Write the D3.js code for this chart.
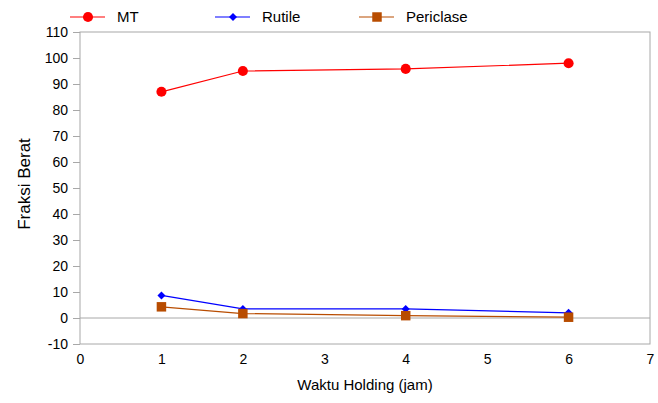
<!DOCTYPE html>
<html>
<head>
<meta charset="utf-8">
<script src="https://cdn.jsdelivr.net/npm/d3@7"></script>
<style>
  body { margin: 0; background: #fff; }
  text { font-family: "Liberation Sans", Arial, sans-serif; fill: #000; }
</style>
</head>
<body>
<svg id="chart" width="658" height="403"></svg>
<script>
const waktu = [1, 2, 4, 6];
const mt = [87, 95, 95.8, 98];
const rutile = [8.7, 3.5, 3.5, 2];
const periclase = [4.3, 1.7, 0.9, 0.3];
const xTicks = [0, 1, 2, 3, 4, 5, 6, 7];
const yTicks = [-10, 0, 10, 20, 30, 40, 50, 60, 70, 80, 90, 100, 110];

const svg = d3.select("#chart");

const x = d3.scaleLinear().domain([0, 7]).range([80, 650]);
const y = d3.scaleLinear().domain([-10, 110]).range([344, 32]);

// bingkai
svg.append("rect")
    .attr("x", 80).attr("y", 32)
    .attr("width", 570).attr("height", 312)
    .attr("fill", "none")
    .attr("stroke", "#a8a8a8")
    .attr("stroke-width", 1);

// garis nol
svg.append("line")
    .attr("x1", x(0)).attr("x2", x(7))
    .attr("y1", y(0)).attr("y2", y(0))
    .attr("stroke", "#a8a8a8");

// sumbu y
const yAxis = svg.append("g")
    .attr("transform", "translate(80,0)")
    .call(d3.axisLeft(y).tickValues(yTicks).tickFormat(d => String(d)).tickSize(7).tickPadding(5));
yAxis.select(".domain").remove();
yAxis.selectAll("line").attr("stroke", "#a8a8a8");
yAxis.selectAll("text").attr("font-size", 14).attr("fill", "#000")
    .style("font-family", "'Liberation Sans', Arial, sans-serif");

// sumbu x
const xAxis = svg.append("g")
    .attr("transform", "translate(0,344)")
    .call(d3.axisBottom(x).tickValues(xTicks).tickFormat(d => String(d)).tickSize(0).tickPadding(10));
xAxis.select(".domain").remove();
xAxis.selectAll("text").attr("font-size", 14).attr("fill", "#000")
    .style("font-family", "'Liberation Sans', Arial, sans-serif");

svg.append("text")
    .attr("transform", "translate(30,184) rotate(-90)")
    .attr("text-anchor", "middle")
    .attr("font-size", 17)
    .text("Fraksi Berat");

svg.append("text")
    .attr("x", 365).attr("y", 390)
    .attr("text-anchor", "middle")
    .attr("font-size", 15)
    .text("Waktu Holding (jam)");

const seri = [
    { nama: "MT", nilai: mt, warna: "#ff0000", simbol: d3.symbolCircle, ukuran: 80, putar: 0 },
    { nama: "Rutile", nilai: rutile, warna: "#0000ff", simbol: d3.symbolSquare, ukuran: 32, putar: 45 },
    { nama: "Periclase", nilai: periclase, warna: "#b84c00", simbol: d3.symbolSquare, ukuran: 90, putar: 0 }
];

const garis = d3.line()
    .x((d, i) => x(waktu[i]))
    .y(d => y(d));

seri.forEach(s => {
    svg.append("path")
        .datum(s.nilai)
        .attr("d", garis)
        .attr("fill", "none")
        .attr("stroke", s.warna)
        .attr("stroke-width", 1.2);

    svg.selectAll(null)
        .data(s.nilai)
        .enter()
        .append("path")
        .attr("d", d3.symbol().type(s.simbol).size(s.ukuran))
        .attr("transform", (d, i) => `translate(${x(waktu[i])},${y(d)}) rotate(${s.putar})`)
        .attr("fill", s.warna);
});

// legenda
const legendX = [70, 215, 359];
seri.forEach((s, i) => {
    const g = svg.append("g").attr("transform", `translate(${legendX[i]},17)`);
    g.append("line")
        .attr("x1", 0).attr("x2", 35)
        .attr("stroke", s.warna).attr("stroke-width", 1.2);
    g.append("path")
        .attr("d", d3.symbol().type(s.simbol).size(s.ukuran))
        .attr("transform", `translate(18,0) rotate(${s.putar})`)
        .attr("fill", s.warna);
    g.append("text")
        .attr("x", 47).attr("y", 5)
        .attr("font-size", 15)
        .text(s.nama);
});
</script>
</body>
</html>
